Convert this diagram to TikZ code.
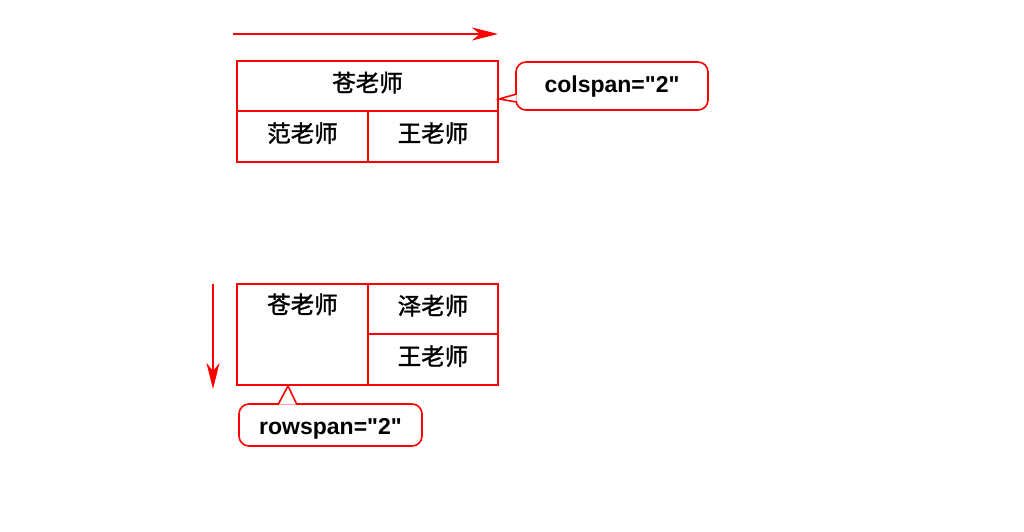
\documentclass[tikz,border=0pt]{standalone}
\usepackage{fontspec}
\setmainfont{Liberation Sans}
\newfontfamily\cjk{Noto Sans CJK SC}[FakeBold=1.5]
\usetikzlibrary{positioning,arrows.meta,calc}
\definecolor{spanred}{HTML}{FF0000}
\newcommand{\dq}{\XeTeXglyph\XeTeXcharglyph"22 }

\begin{document}
\begin{tikzpicture}[x=1pt, y=-1pt,
    cell/.style={draw=spanred, line width=1.9pt, font=\cjk\fontsize{23.5}{26}\selectfont, inner sep=0pt, text height=16pt, text depth=5pt},
    note/.style={draw=spanred, line width=1.6pt, rounded corners=10pt, fill=white, font=\bfseries\fontsize{23}{26}\selectfont, text height=17pt, text depth=3pt},
    pointer/.style={draw=spanred, line width=1.6pt, fill=white, line join=miter},
    arr/.style={-{Stealth[length=26pt, width=13pt, inset=8pt]}, draw=spanred, line width=2.2pt}]
  \useasboundingbox[fill=white] (0,0) rectangle (1024,532);
  % colspan table
  \coordinate (hs) at (233,34); \coordinate (he) at (498,34);
  \draw[arr] (hs) -- (he);
  \node[cell, minimum width=261, minimum height=50] (cang1) at (367.5,86) {苍老师};
  \node[cell, minimum width=131, minimum height=51] (fan) at (302.5,136.5) {范老师};
  \node[cell, minimum width=130, minimum height=51] (wang1) at (433,136.5) {王老师};
  \node[note, minimum width=192, minimum height=48] (colnote) at (612,86) {colspan=\dq2\dq};
  \coordinate (coltip) at (499,99);
  \draw[pointer] ($(colnote.west)+(1.5,8)$) -- (coltip) -- ($(colnote.west)+(1.5,16)$);
  % rowspan table
  \coordinate (vs) at (213,284); \coordinate (ve) at (213,389);
  \draw[arr] (vs) -- (ve);
  \node[cell, minimum width=131, minimum height=101,
        label={[font=\cjk\fontsize{23.5}{26}\selectfont, anchor=north, yshift=-7pt]north:苍老师}] (cang2) at (302.5,334.5) {};
  \node[cell, minimum width=130, minimum height=50] (ze) at (433,309) {泽老师};
  \node[cell, minimum width=130, minimum height=51] (wang2) at (433,359.5) {王老师};
  \node[note, minimum width=183, minimum height=42, text height=19pt, text depth=1pt] (rownote) at (330.5,425) {rowspan=\dq2\dq};
  \coordinate (rowtip) at (288,386);
  \draw[pointer] ($(rownote.north)+(-52.5,1.5)$) -- (rowtip) -- ($(rownote.north)+(-33.5,1.5)$);
\end{tikzpicture}
\end{document}
